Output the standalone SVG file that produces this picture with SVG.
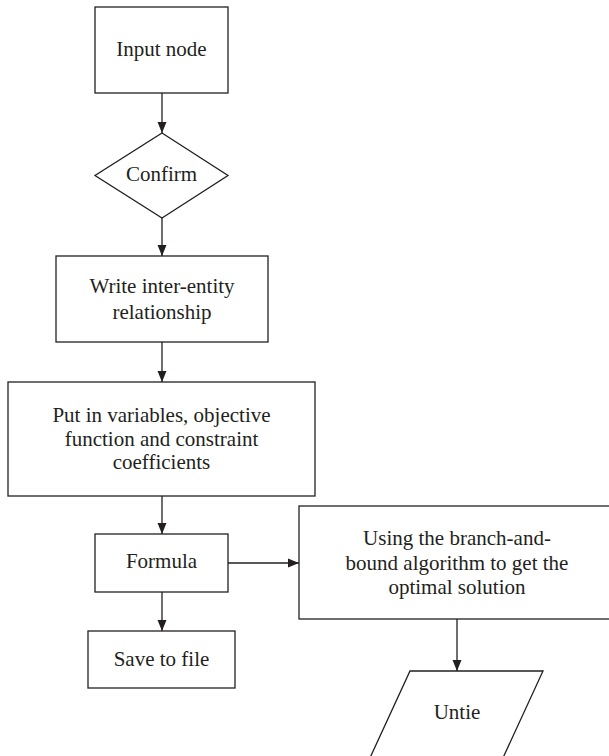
<svg xmlns="http://www.w3.org/2000/svg" width="609" height="756" viewBox="0 0 609 756">
<style>
.n{fill:#fff;stroke:#231f20;stroke-width:1.3}
.t{font-family:"Liberation Serif","Times New Roman",serif;font-size:21px;fill:#231f20;text-anchor:middle}
.c{fill:none;stroke:#231f20;stroke-width:1.3}
</style>
<defs>
<marker id="ah" markerUnits="userSpaceOnUse" markerWidth="12" markerHeight="10" refX="11" refY="5" orient="auto">
<path d="M0,0.5 L11,5 L0,9.5 z" fill="#231f20"/>
</marker>
</defs>
<rect width="609" height="756" fill="#fff"/>
<g id="connectors">
<line class="c" x1="162" y1="93" x2="162" y2="133" marker-end="url(#ah)"/>
<line class="c" x1="162" y1="218" x2="162" y2="256" marker-end="url(#ah)"/>
<line class="c" x1="162" y1="342" x2="162" y2="382" marker-end="url(#ah)"/>
<line class="c" x1="162" y1="496" x2="162" y2="534" marker-end="url(#ah)"/>
<line class="c" x1="228" y1="563" x2="299" y2="563" marker-end="url(#ah)"/>
<line class="c" x1="162" y1="592" x2="162" y2="631" marker-end="url(#ah)"/>
<line class="c" x1="457" y1="619" x2="457" y2="671" marker-end="url(#ah)"/>
</g>
<g id="input-node">
<rect class="n" x="95" y="7" width="133" height="86"/>
<text class="t" x="161.5" y="56">Input node</text>
</g>
<g id="confirm">
<polygon class="n" points="162,133 228,175.5 162,218 95,175.5"/>
<text class="t" x="161.5" y="181">Confirm</text>
</g>
<g id="write">
<rect class="n" x="56" y="256" width="212" height="86"/>
<text class="t" x="162" y="293">Write inter-entity</text>
<text class="t" x="162" y="319">relationship</text>
</g>
<g id="put">
<rect class="n" x="8" y="382" width="307" height="114"/>
<text class="t" x="161.5" y="422">Put in variables, objective</text>
<text class="t" x="161.5" y="446">function and constraint</text>
<text class="t" x="161.5" y="469">coefficients</text>
</g>
<g id="formula">
<rect class="n" x="95" y="534" width="133" height="58"/>
<text class="t" x="161.5" y="568">Formula</text>
</g>
<g id="save">
<rect class="n" x="88" y="631" width="147" height="57"/>
<text class="t" x="161.5" y="666">Save to file</text>
</g>
<g id="branch">
<rect class="n" x="299" y="506" width="316" height="113"/>
<text class="t" x="457" y="545">Using the branch-and-</text>
<text class="t" x="457" y="570">bound algorithm to get the</text>
<text class="t" x="457" y="594">optimal solution</text>
</g>
<g id="untie">
<polygon class="n" points="410,671 543,671 502,760 369,760"/>
<text class="t" x="457" y="719">Untie</text>
</g>
</svg>
